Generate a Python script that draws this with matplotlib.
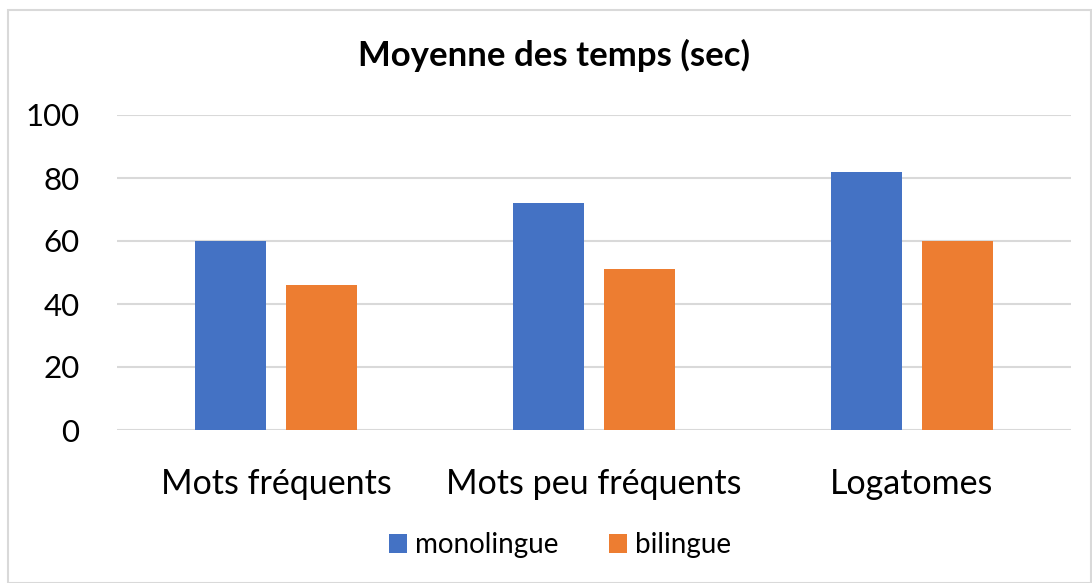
# Clustered bar chart: average times (sec)
import numpy as np
import matplotlib.pyplot as plt
from matplotlib.patches import Rectangle

categories = ["Mots fréquents", "Mots peu fréquents", "Logatomes"]
monolingue = [60, 72, 82]
bilingue = [46, 51, 60]
yticks = [0, 20, 40, 60, 80, 100]

plt.rcParams["font.family"] = ["Lato", "DejaVu Sans"]

fig = plt.figure(figsize=(10.92, 5.83), dpi=100)
ax = fig.add_axes([117 / 1092, 1 - 430 / 583, (1071 - 117) / 1092, (430 - 115) / 583])

x = np.arange(len(categories))
width = 0.223
offset = 0.143
ax.bar(x - offset, monolingue, width, color="#4472C4", label="monolingue", zorder=3)
ax.bar(x + offset, bilingue, width, color="#ED7D31", label="bilingue", zorder=3)

ax.set_xlim(-0.5, len(categories) - 0.5)
ax.set_ylim(0, 100)
ax.set_yticks(yticks)
ax.set_xticks(x)
ax.set_xticklabels(categories)
ax.yaxis.grid(True, color="#D9D9D9", linewidth=1.5, zorder=0)
ax.set_axisbelow(True)
for s in ax.spines.values():
    s.set_visible(False)
ax.tick_params(axis="y", length=0, pad=27, labelsize=22.5)
ax.tick_params(axis="x", length=0, pad=27, labelsize=24.5)

fig.text(0.507, 0.905, "Moyenne des temps (sec)", ha="center", va="center",
         fontsize=25, fontweight="bold")

fig.legend(loc="center", bbox_to_anchor=(560 / 1092, 1 - 545 / 583), frameon=False,
           ncol=2, fontsize=20, handlelength=0.65, handleheight=0.65,
           handletextpad=0.3, columnspacing=1.8)

# light outer border of the chart area
fig.patches.append(Rectangle((8 / 1092, 0.0), 1 - 9 / 1092, 1 - 10 / 583,
                             transform=fig.transFigure, fill=False,
                             edgecolor="#D9D9D9", linewidth=1.5))

fig.savefig("out.png", dpi=100)
